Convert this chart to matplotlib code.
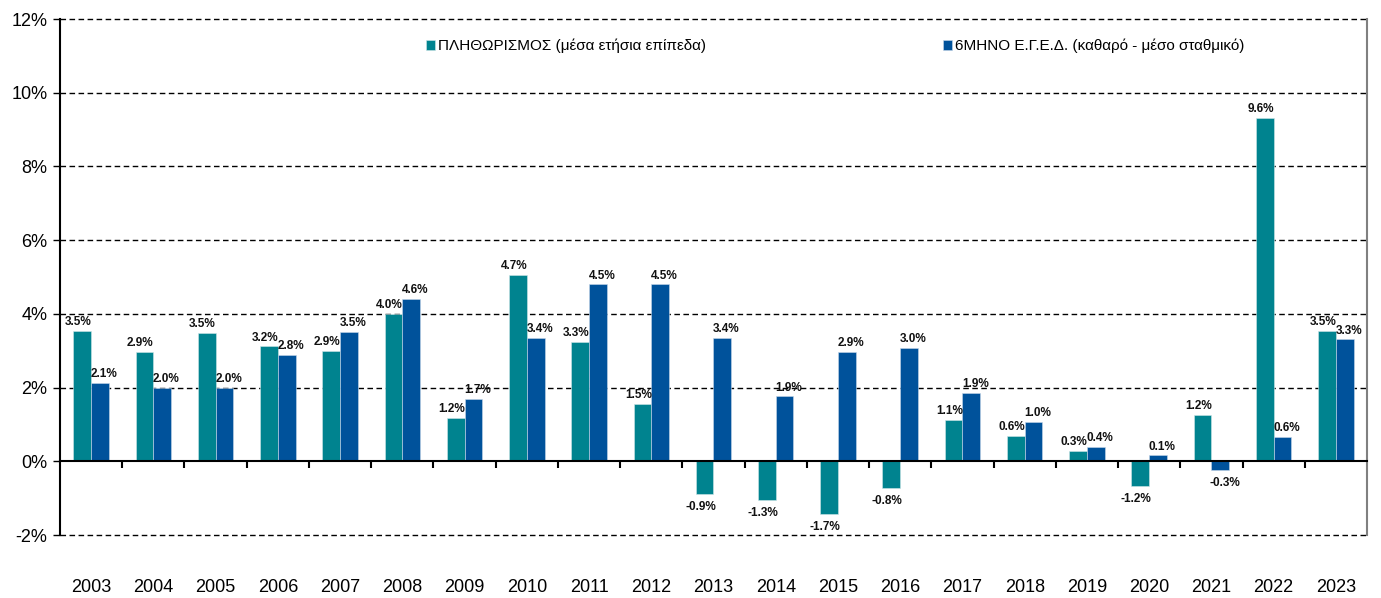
import numpy as np
import matplotlib
matplotlib.use("Agg")
import matplotlib.pyplot as plt
from matplotlib.ticker import FuncFormatter

plt.rcParams["font.family"] = ["Liberation Sans", "DejaVu Sans"]

# ==========================
# data
# ==========================
years = ["2003", "2004", "2005", "2006", "2007", "2008", "2009", "2010", "2011", "2012", "2013",
         "2014", "2015", "2016", "2017", "2018", "2019", "2020", "2021", "2022", "2023"]

inflation = [3.54, 2.96, 3.49, 3.12, 3.0, 4.0, 1.18, 5.05, 3.23, 1.56, -0.90,
             -1.04, -1.44, -0.72, 1.13, 0.68, 0.28, -0.67, 1.25, 9.31, 3.53]
inflation_labels = ["3.5%", "2.9%", "3.5%", "3.2%", "2.9%", "4.0%", "1.2%", "4.7%", "3.3%", "1.5%", "-0.9%",
                    "-1.3%", "-1.7%", "-0.8%", "1.1%", "0.6%", "0.3%", "-1.2%", "1.2%", "9.6%", "3.5%"]

egd = [2.12, 2.0, 2.0, 2.89, 3.52, 4.40, 1.70, 3.34, 4.80, 4.80, 3.34,
       1.76, 2.97, 3.07, 1.86, 1.06, 0.39, 0.16, -0.24, 0.66, 3.31]
egd_labels = ["2.1%", "2.0%", "2.0%", "2.8%", "3.5%", "4.6%", "1.7%", "3.4%", "4.5%", "4.5%", "3.4%",
              "1.9%", "2.9%", "3.0%", "1.9%", "1.0%", "0.4%", "0.1%", "-0.3%", "0.6%", "3.3%"]

series_names = ["ΠΛΗΘΩΡΙΣΜΟΣ (μέσα ετήσια επίπεδα)",
                "6ΜΗΝΟ Ε.Γ.Ε.Δ. (καθαρό - μέσο σταθμικό)"]

teal = "#00838F"
blue = "#00529B"

# ==========================
# figure
# ==========================
fig = plt.figure(figsize=(13.81, 5.98), dpi=100)
ax = fig.add_axes([60 / 1381, 63 / 598, 1307 / 1381, 516 / 598])

x = np.arange(len(years))
w = 0.285

b1 = ax.bar(x - w / 2, inflation, w, color=teal, edgecolor="#cfe6e8", linewidth=0.4,
            label=series_names[0], zorder=3)
b2 = ax.bar(x + w / 2, egd, w, color=blue, edgecolor="#c8d8ea", linewidth=0.4,
            label=series_names[1], zorder=3)

lab_font = dict(family=["Liberation Sans Narrow", "Liberation Sans"], fontweight="bold",
                fontsize=8.5, color="#111111")

for bars, labs, dx in [(b1, inflation_labels, -3), (b2, egd_labels, 3)]:
    for bar, lab in zip(bars, labs):
        h = bar.get_height()
        xc = bar.get_x() + bar.get_width() / 2
        if h >= 0:
            ax.annotate(lab, (xc, h), xytext=(dx, 2), textcoords="offset points",
                        ha="center", va="bottom", **lab_font)
        else:
            ax.annotate(lab, (xc, h), xytext=(dx, -5), textcoords="offset points",
                        ha="center", va="top", **lab_font)

ax.set_ylim(-2, 12)
ax.set_xlim(-0.5, len(years) - 0.5)
ax.set_yticks(np.arange(-2, 13, 2))
ax.yaxis.set_major_formatter(FuncFormatter(lambda v, p: f"{v:.0f}%"))
ax.tick_params(axis="y", labelsize=13, length=5, width=1, pad=4)

# gridlines
for g in [-2, 2, 4, 6, 8, 10, 12]:
    ax.axhline(g, color="black", linestyle=(0, (4, 2.5)), linewidth=1, zorder=1, clip_on=False)

# x axis at zero
ax.spines["bottom"].set_position(("data", 0))
ax.spines["bottom"].set_linewidth(1.5)
ax.spines["bottom"].set_zorder(4)
ax.spines["top"].set_visible(False)
ax.spines["left"].set_linewidth(1.5)
ax.spines["right"].set_color("#808080")
ax.spines["right"].set_linewidth(1.5)

ax.set_xticks(x)
ax.set_xticklabels(years)
ax.set_xticks(np.arange(0.5, len(years) - 1, 1), minor=True)
ax.tick_params(axis="x", which="major", length=0, labelsize=13, pad=85)
ax.tick_params(axis="x", which="minor", length=5, width=1.5, direction="out")

ax.legend(loc="center", bbox_to_anchor=(0.593, 0.948), ncol=2, frameon=False,
          fontsize=11, handlelength=0.6, handleheight=0.6, handletextpad=0.2,
          columnspacing=15.5)

fig.savefig("out.png", dpi=100)
